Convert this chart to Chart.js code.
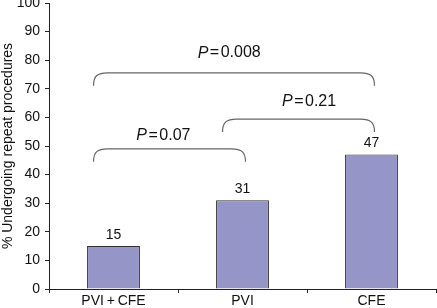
<!DOCTYPE html>
<html><head><meta charset="utf-8">
<script src="https://cdn.jsdelivr.net/npm/chart.js@4"></script>
<style>html,body{margin:0;padding:0;background:#fff}canvas{display:block}</style>
</head><body><canvas id="c" width="437" height="308"></canvas>
<script>
const categories = ['PVI\u2009+\u2009CFE', 'PVI', 'CFE'];
const values = [15, 31, 47];
const yTicks = [0, 10, 20, 30, 40, 50, 60, 70, 80, 90, 100];
// pairwise comparisons
const compFrom = [0, 1, 0];
const compTo = [1, 2, 2];
const compP = ['0.07', '0.21', '0.008'];
const compLevel = [49.0, 59.4, 75.6];      // bracket height (y units)
const compTextLevel = [53.8, 65.5, 82.5];  // label height (y units)
const compTextPos = [0.387, 1.516, 0.897]; // label centre (category units)

const FONT = 'Liberation Sans, Arial, sans-serif';

const annot = {
  id: 'annot',
  afterDatasetsDraw(chart) {
    const ctx = chart.ctx, x = chart.scales.x, y = chart.scales.y;
    ctx.save();
    ctx.fillStyle = '#111';
    ctx.font = '14px ' + FONT;
    ctx.textAlign = 'center';
    ctx.textBaseline = 'middle';
    const meta = chart.getDatasetMeta(0);
    meta.data.forEach((b, i) => {
      ctx.fillText(String(values[i]), b.x, y.getPixelForValue(values[i]) - 11);
    });
    for (let i = 0; i < compP.length; i++) {
      const x0 = x.getPixelForValue(compFrom[i]) - 20;
      const x1 = x.getPixelForValue(compTo[i]) + 3;
      const yy = y.getPixelForValue(compLevel[i]);
      const rx = 14, ry = 13;
      ctx.strokeStyle = '#666';
      ctx.lineWidth = 1.2;
      ctx.beginPath();
      ctx.moveTo(x0, yy + ry);
      ctx.bezierCurveTo(x0, yy + 3, x0 + 4, yy, x0 + rx, yy);
      ctx.lineTo(x1 - rx, yy);
      ctx.bezierCurveTo(x1 - 4, yy, x1, yy + 3, x1, yy + ry);
      ctx.stroke();
      const cx = x.getPixelForValue(compTextPos[i]);
      const ty = y.getPixelForValue(compTextLevel[i]);
      ctx.fillStyle = '#111';
      ctx.textBaseline = 'middle';
      ctx.font = 'italic 16px ' + FONT;
      const pW = ctx.measureText('P').width;
      ctx.font = '16px ' + FONT;
      const eqW = ctx.measureText('=').width;
      const numW = ctx.measureText(compP[i]).width;
      const gap = 1.5;
      const total = pW + gap + eqW + gap + numW;
      let sx = cx - total / 2;
      ctx.textAlign = 'left';
      ctx.font = 'italic 16px ' + FONT;
      ctx.fillText('P', sx, ty);
      sx += pW + gap;
      ctx.font = '16px ' + FONT;
      ctx.fillText('=', sx, ty);
      sx += eqW + gap;
      ctx.fillText(compP[i], sx, ty);
    }
    ctx.restore();
  }
};

new Chart(document.getElementById('c'), {
  type: 'bar',
  data: {
    labels: categories,
    datasets: [{
      data: values,
      backgroundColor: '#9595c8',
      borderColor: '#333',
      borderWidth: 1,
      barPercentage: 0.82,
      categoryPercentage: 0.5
    }]
  },
  options: {
    responsive: false,
    animation: false,
    devicePixelRatio: 1,
    layout: { padding: { top: 3, right: 1, left: 0, bottom: 0 } },
    plugins: { legend: { display: false }, tooltip: { enabled: false } },
    scales: {
      x: {
        grid: { display: true, drawOnChartArea: false, offset: true, tickLength: 4, color: '#222', lineWidth: 1 },
        border: { display: true, color: '#222', width: 1 },
        ticks: { color: '#111', font: { size: 14, family: FONT }, padding: 0, maxRotation: 0 },
        afterFit(s) { s.height = 19; s.paddingLeft = 0; s.paddingRight = 0; }
      },
      y: {
        min: 0, max: 100,
        afterBuildTicks(s) { s.ticks = yTicks.map(v => ({ value: v })); },
        grid: { display: true, drawOnChartArea: false, tickLength: 4, color: '#222' },
        border: { display: true, color: '#222', width: 1 },
        ticks: { color: '#111', font: { size: 14, family: FONT }, padding: 5 },
        title: { display: true, text: '% Undergoing repeat procedures', color: '#111', font: { size: 14, family: FONT }, padding: { top: 0, bottom: 0 } },
        afterFit(s) { s.width = 49; s.paddingTop = 0; s.paddingBottom = 0; }
      }
    }
  },
  plugins: [annot]
});
</script>
</body></html>
